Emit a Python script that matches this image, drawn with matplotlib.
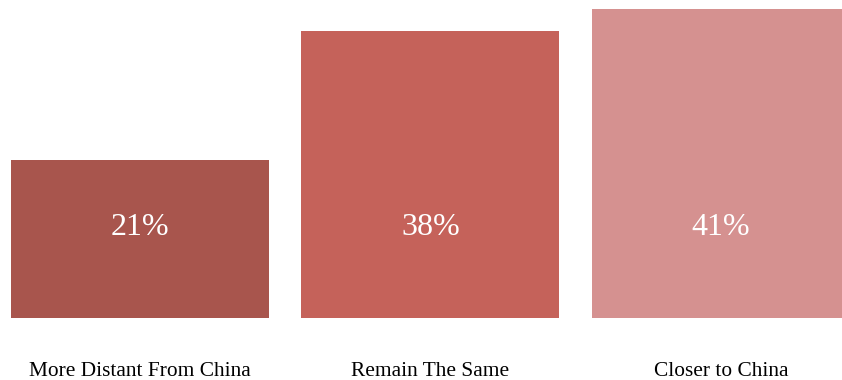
import matplotlib.pyplot as plt

categories = ["More Distant From China", "Remain The Same", "Closer to China"]
percents = [21, 38, 41]
colors = ["#a8554d", "#c5625a", "#d59190"]

plt.rcParams["font.family"] = ["Liberation Serif", "DejaVu Serif"]

fig = plt.figure(figsize=(8.42, 3.80), dpi=100)
ax = fig.add_axes([0, 62 / 380, 1, 318 / 380])

x = range(len(categories))
ax.bar(x, percents, width=0.888, color=colors)

# value labels sit at one common height inside the bars
for i, p in zip(x, percents):
    ax.text(i, 12.0, f"{p}%", ha="center", va="center", color="white", fontsize=23)

ax.set_xlim(-0.482, 2.417)
ax.set_ylim(0, 42.17)
ax.set_xticks(list(x))
ax.set_xticklabels(categories, fontsize=15.4)
ax.tick_params(axis="x", length=0, pad=32)
ax.set_yticks([])
for s in ax.spines.values():
    s.set_visible(False)

fig.savefig("out.png", dpi=100)
